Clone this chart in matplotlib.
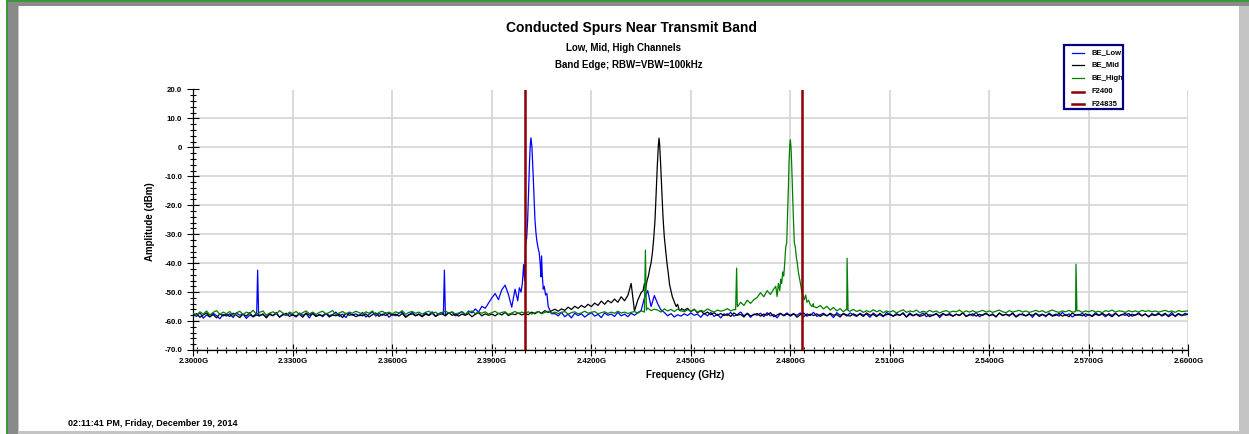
import numpy as np
import matplotlib
matplotlib.use("Agg")
import matplotlib.pyplot as plt
from matplotlib.patches import Rectangle
from matplotlib.lines import Line2D
from matplotlib.ticker import MultipleLocator, FuncFormatter

plt.rcParams['font.family'] = ['Liberation Sans', 'DejaVu Sans']
plt.rcParams['font.weight'] = 'bold'

# ---------------- data ----------------
grid_start = 2.300   # GHz
grid_step = 0.001    # GHz

low_bg = [
    -57.6, -58.4, -57.1, -59.0, -57.9, -58.6, -57.3, -58.1, -59.2, -57.7,
    -58.3, -57.5, -58.8, -57.2, -58.0, -57.6, -59.1, -57.9, -58.4, -57.4,
    -58.0, -57.8, -58.5, -57.3, -58.2, -57.0, -58.7, -57.6, -58.1, -57.4,
    -57.9, -58.6, -57.2, -58.0, -57.5, -58.9, -57.1, -58.3, -57.7, -58.5,
    -57.3, -58.1, -57.8, -56.9, -58.4, -57.6, -58.8, -57.2, -58.0, -57.5,
    -58.2, -57.0, -58.6, -57.7, -56.8, -58.3, -57.4, -58.0, -57.1, -58.7,
    -57.6, -58.2, -57.3, -56.9, -58.5, -57.8, -57.0, -58.1, -57.5, -58.4,
    -57.2, -57.9, -56.8, -58.3, -57.4, -57.0, -58.0, -57.3, -56.9, -58.2,
    -57.5, -56.8, -57.9, -56.5, -57.2, -55.8, -56.9, -54.9, -55.6, -53.8,
    -52.0, -50.5, -52.6, -49.2, -47.6, -50.8, -55.2, -49.0, -50.0, -47.0,
    -33.0, -20.0, 3.0, -25.0, -36.0, -45.0, -50.0, -55.0, -57.0, -57.4,
    -58.2, -57.0, -58.5, -57.6, -58.9, -57.3, -58.1, -57.5, -58.6, -57.8,
    -57.1, -58.3, -57.7, -58.8, -57.2, -58.0, -57.6, -58.4, -57.0, -58.2,
    -57.6, -58.5, -57.3, -58.0, -57.1, -56.4, -52.0, -49.5, -55.0, -51.2,
    -54.0, -56.2, -57.0, -58.2, -57.4, -58.6, -57.8, -58.3, -57.5, -58.1,
    -57.2, -58.0, -57.6, -58.7, -57.3, -58.2, -57.0, -58.4, -57.7, -58.9,
    -57.5, -58.1, -57.0, -58.3, -57.8, -56.9, -58.2, -57.4, -58.7, -57.6,
    -58.0, -57.3, -58.5, -57.1, -58.2, -57.7, -58.9, -57.4, -58.0, -57.2,
    -58.3, -57.6, -58.0, -57.2, -58.6, -57.5, -58.1, -57.0, -58.4, -57.8,
    -57.3, -58.2, -57.6, -58.8, -57.1, -58.0, -57.5, -58.3, -57.2, -57.9,
    -58.4, -57.3, -58.0, -57.6, -58.7, -57.2, -58.1, -57.8, -58.5, -57.0,
    -57.9, -58.3, -57.4, -58.0, -57.1, -58.6, -57.7, -58.2, -57.5, -58.0,
    -57.2, -58.5, -57.8, -58.1, -57.3, -58.8, -57.6, -58.0, -57.4, -58.3,
    -57.7, -58.0, -57.1, -58.4, -57.6, -58.2, -57.0, -58.5, -57.8, -57.3,
    -58.1, -57.5, -58.6, -57.2, -58.0, -57.7, -58.3, -57.1, -58.4, -57.6,
    -57.9, -58.2, -57.4, -58.7, -57.3, -58.0, -57.6, -58.5, -57.2, -58.1,
    -57.6, -58.3, -57.0, -58.1, -57.5, -58.6, -57.8, -58.0, -57.3, -58.4,
    -57.7, -58.2, -57.1, -58.0, -57.6, -58.5, -57.4, -58.1, -57.2, -58.3,
    -57.8, -57.3, -58.4, -57.6, -58.0, -57.1, -58.2, -57.5, -58.6, -57.4,
    -58.0, -57.2, -58.3, -57.7, -58.1, -57.0, -58.5, -57.6, -58.2, -57.3,
    -57.8,
]

mid_bg = [
    -58.1, -57.4, -58.7, -57.9, -57.2, -58.5, -57.8, -58.9, -57.5, -58.2,
    -57.7, -58.4, -57.3, -58.0, -58.8, -57.6, -58.3, -57.1, -58.6, -57.9,
    -58.2, -57.5, -58.9, -57.7, -58.1, -57.4, -58.6, -57.9, -57.3, -58.4,
    -57.8, -58.3, -57.6, -58.7, -57.2, -58.0, -57.5, -58.4, -57.9, -58.1,
    -57.4, -58.6, -57.9, -58.2, -57.6, -58.8, -57.3, -58.0, -57.7, -58.5,
    -57.9, -58.2, -57.5, -58.6, -57.8, -57.2, -58.4, -57.6, -58.1, -57.3,
    -58.0, -57.6, -58.3, -57.4, -58.7, -57.9, -57.5, -58.2, -57.7, -58.5,
    -57.6, -58.1, -57.3, -58.4, -57.8, -57.5, -58.2, -57.1, -58.0, -57.7,
    -58.3, -57.6, -58.0, -57.4, -58.5, -57.7, -57.1, -58.2, -57.5, -58.0,
    -57.6, -58.2, -57.3, -57.9, -57.0, -58.1, -57.5, -57.8, -57.2, -57.9,
    -57.4, -57.8, -56.9, -57.5, -56.7, -57.3, -56.4, -57.0, -56.5, -55.9,
    -56.6, -55.8, -56.3, -55.2, -56.0, -54.9, -55.6, -54.6, -55.3, -54.2,
    -55.0, -53.8, -54.6, -53.1, -54.2, -52.9, -53.7, -52.4, -53.5, -51.6,
    -53.0, -51.2, -47.0, -56.5, -52.8, -50.2, -49.0, -45.0, -38.0, -25.0,
    3.0, -20.0, -38.0, -46.0, -51.0, -53.0, -54.5, -55.2, -56.3, -55.6,
    -56.8, -55.9, -57.2, -56.4, -57.6, -56.9, -57.8, -57.1, -58.0, -57.4,
    -58.1, -57.5, -58.4, -57.2, -58.0, -57.7, -58.6, -57.3, -58.2, -57.8,
    -57.4, -58.3, -57.6, -58.0, -57.1, -58.5, -57.9, -57.3, -58.2, -57.6,
    -58.0, -57.4, -58.7, -57.8, -57.2, -58.3, -57.6, -58.1, -57.5, -58.4,
    -57.7, -58.2, -57.3, -58.0, -57.8, -58.6, -57.4, -57.9, -58.3, -57.5,
    -58.1, -57.6, -58.4, -57.2, -58.0, -57.7, -58.5, -57.3, -58.2, -57.8,
    -57.5, -58.3, -57.8, -58.0, -57.4, -58.6, -57.2, -58.1, -57.7, -58.4,
    -58.0, -57.3, -58.5, -57.9, -57.6, -58.2, -57.4, -58.0, -57.8, -58.3,
    -57.6, -58.1, -57.2, -58.4, -57.9, -57.5, -58.3, -57.7, -58.0, -57.4,
    -58.2, -57.8, -58.5, -57.3, -58.1, -57.6, -58.0, -57.4, -58.6, -57.9,
    -57.5, -58.2, -57.7, -58.0, -57.3, -58.4, -57.8, -58.1, -57.6, -58.3,
    -58.0, -57.4, -58.3, -57.8, -58.5, -57.2, -58.0, -57.7, -58.2, -57.5,
    -57.9, -58.4, -57.6, -58.1, -57.3, -58.0, -57.8, -58.5, -57.4, -58.2,
    -57.7, -58.0, -57.4, -58.3, -57.9, -57.5, -58.2, -57.6, -58.4, -57.8,
    -58.1, -57.6, -58.0, -57.3, -58.5, -57.7, -58.2, -57.4, -58.0, -57.9,
    -57.6,
]

high_bg = [
    -57.3, -58.0, -56.8, -57.6, -56.5, -57.9, -57.0, -56.4, -57.7, -56.9,
    -57.5, -56.7, -58.1, -57.2, -56.6, -57.8, -56.9, -57.4, -56.3, -57.6,
    -57.0, -56.5, -57.9, -57.3, -56.8, -57.6, -56.4, -57.2, -58.0, -56.9,
    -57.4, -56.7, -57.8, -57.1, -56.5, -57.5, -56.9, -57.7, -57.0, -56.6,
    -57.6, -57.0, -56.4, -57.8, -57.2, -56.7, -57.5, -56.9, -57.3, -56.6,
    -57.1, -57.7, -56.8, -57.3, -56.5, -57.9, -57.0, -56.6, -57.4, -56.9,
    -57.5, -56.8, -57.2, -56.4, -57.7, -57.0, -56.7, -57.3, -56.9, -57.6,
    -57.0, -56.6, -57.4, -56.9, -57.7, -57.1, -56.5, -57.3, -56.8, -57.5,
    -57.2, -56.7, -57.6, -57.0, -56.5, -57.4, -56.9, -57.3, -56.8, -57.6,
    -57.1, -56.6, -57.5, -57.0, -56.8, -57.7, -57.2, -56.7, -57.4, -56.9,
    -57.3, -56.8, -57.6, -57.1, -56.7, -57.5, -57.0, -56.6, -57.3, -56.9,
    -57.4, -57.0, -56.7, -57.6, -57.1, -56.8, -57.5, -57.2, -56.6, -57.3,
    -57.0, -56.7, -57.5, -57.1, -56.8, -57.4, -56.9, -57.3, -56.6, -57.2,
    -56.9, -57.4, -57.0, -56.7, -57.3, -56.5, -56.8, -55.5, -56.4, -55.9,
    -56.2, -56.9, -55.8, -56.5, -56.0, -56.7, -55.9, -56.4, -56.8, -56.1,
    -56.6, -56.0, -56.9, -56.3, -56.7, -55.8, -56.4, -56.9, -56.2, -56.6,
    -56.3, -55.7, -56.5, -56.0, -54.8, -53.5, -54.6, -52.8, -53.9, -52.6,
    -51.8, -50.2, -51.6, -49.5, -50.8, -48.9, -47.0, -45.0, -40.0, -20.0,
    2.6, -13.0, -34.0, -43.0, -49.0, -52.0, -54.0, -55.0, -55.4, -54.6,
    -55.8, -54.9, -56.2, -55.3, -56.5, -55.7, -56.8, -56.1, -56.6, -56.0,
    -56.7, -56.2, -57.0, -56.4, -56.9, -56.1, -56.8, -56.3, -57.1, -56.5,
    -56.9, -56.4, -57.2, -56.6, -56.1, -57.0, -56.5, -56.8, -56.2, -57.1,
    -56.6, -57.0, -56.3, -56.9, -56.5, -57.2, -56.7, -56.4, -57.0, -56.6,
    -56.8, -56.2, -57.1, -56.5, -56.9, -56.4, -57.0, -56.7, -56.3, -56.9,
    -56.5, -57.0, -56.6, -56.2, -56.8, -57.1, -56.4, -56.9, -56.6, -56.3,
    -56.9, -56.5, -57.0, -56.7, -56.3, -56.8, -56.4, -57.1, -56.6, -56.2,
    -56.7, -57.0, -56.5, -56.8, -56.3, -56.9, -56.6, -56.4, -57.0, -56.5,
    -56.8, -56.3, -56.9, -56.6, -57.1, -56.4, -56.7, -56.2, -56.9, -56.5,
    -56.6, -57.0, -56.4, -56.8, -56.5, -56.9, -56.3, -56.7, -56.4, -56.8,
    -56.5, -56.9, -56.6, -56.3, -56.8, -56.5, -57.0, -56.4, -56.7, -56.6,
    -56.5,
]

# finely sampled carrier regions (GHz, dBm)
low_peak_f = [2.3978, 2.3983, 2.3988, 2.3992, 2.3996, 2.3999, 2.4002, 2.4005,
              2.4008, 2.4011, 2.4014, 2.4016, 2.4018, 2.4021, 2.4024, 2.4027,
              2.4030, 2.4033, 2.4036, 2.4039, 2.4043, 2.4046, 2.4048, 2.4050,
              2.4052, 2.4055, 2.4058, 2.4062, 2.4066, 2.4070, 2.4075, 2.4080]
low_peak_a = [-53.0, -48.5, -50.0, -47.0, -40.5, -46.0, -33.0, -31.5,
              -25.0, -14.0, -4.0, 1.0, 3.3, 0.0, -8.0, -17.0,
              -25.0, -29.5, -32.5, -34.5, -36.5, -40.5, -44.7, -37.5,
              -44.0, -49.0, -48.0, -51.0, -50.5, -55.0, -56.2, -57.5]

mid_peak_f = [2.4356, 2.4360, 2.4364, 2.4368, 2.4372, 2.4376, 2.4380, 2.4384,
              2.4388, 2.4392, 2.4396, 2.4399, 2.4402, 2.4404, 2.4406, 2.4409,
              2.4412, 2.4416, 2.4420, 2.4424, 2.4428, 2.4432, 2.4436, 2.4440,
              2.4444, 2.4448, 2.4452, 2.4456, 2.4460, 2.4464, 2.4468, 2.4472]
mid_peak_a = [-49.5, -47.0, -48.5, -46.0, -44.5, -42.0, -40.0, -36.5,
              -31.5, -25.0, -14.0, -6.0, 0.5, 3.2, 0.8, -6.0,
              -14.0, -24.0, -31.0, -35.5, -40.0, -43.5, -47.5, -49.5,
              -51.5, -52.8, -54.0, -55.0, -54.2, -55.8, -56.5, -55.7]

high_peak_f = [2.4756, 2.4760, 2.4764, 2.4768, 2.4771, 2.4774, 2.4777, 2.4780,
               2.4783, 2.4786, 2.4789, 2.4792, 2.4794, 2.4796, 2.4798, 2.4800,
               2.4802, 2.4804, 2.4806, 2.4809, 2.4812, 2.4815, 2.4818, 2.4821,
               2.4824, 2.4827, 2.4830, 2.4834, 2.4838, 2.4842, 2.4846, 2.4850,
               2.4855, 2.4860, 2.4865, 2.4869]
high_peak_a = [-48.0, -51.5, -47.0, -49.5, -45.5, -47.0, -43.0, -44.5,
               -40.0, -34.5, -33.0, -22.0, -14.0, -5.0, 0.5, 2.6,
               0.0, -6.0, -13.7, -24.0, -33.0, -34.5, -38.0, -40.0,
               -43.0, -45.0, -46.7, -49.5, -51.5, -52.6, -51.0, -53.5,
               -52.8, -54.3, -55.0, -54.0]

# narrow spurs (GHz, dBm)
low_spur_f = [2.3191, 2.3194, 2.3197, 2.3754, 2.3757, 2.3760]
low_spur_a = [-57.9, -42.4, -58.2, -57.6, -42.4, -57.8]
high_spur_f = [2.4360, 2.4363, 2.4366, 2.4635, 2.4638, 2.4641,
               2.4968, 2.4971, 2.4974, 2.5658, 2.5661, 2.5664]
high_spur_a = [-56.9, -35.5, -56.2, -56.1, -41.7, -55.0,
               -56.0, -38.3, -56.4, -56.8, -40.4, -56.5]

marker_freqs = [2.400, 2.4835]
marker_names = ["F2400", "F24835"]
trace_names = ["BE_Low", "BE_Mid", "BE_High"]
trace_colors = ["#0000ff", "#000000", "#008000"]

x_ticks = [2.30, 2.33, 2.36, 2.39, 2.42, 2.45, 2.48, 2.51, 2.54, 2.57, 2.60]
y_ticks = [20, 10, 0, -10, -20, -30, -40, -50, -60, -70]


def build(bg, pk_f, pk_a, sp_f, sp_a):
    bg = np.asarray(bg, float)
    f = grid_start + grid_step * np.arange(len(bg))
    keep = (f < min(pk_f) - 1e-7) | (f > max(pk_f) + 1e-7)
    ff = np.concatenate([f[keep], pk_f, sp_f])
    aa = np.concatenate([bg[keep], pk_a, sp_a])
    o = np.argsort(ff, kind="stable")
    return ff[o], aa[o]


traces = [
    build(low_bg, low_peak_f, low_peak_a, low_spur_f, low_spur_a),
    build(mid_bg, mid_peak_f, mid_peak_a, [], []),
    build(high_bg, high_peak_f, high_peak_a, high_spur_f, high_spur_a),
]

# ---------------- figure ----------------
W, H = 1249, 434
fig = plt.figure(figsize=(W / 100, H / 100), dpi=100)
fig.patch.set_facecolor("white")


def px_rect(x, y, w, h, color):
    fig.add_artist(Rectangle((x / W, 1 - (y + h) / H), w / W, h / H,
                             transform=fig.transFigure, color=color, lw=0, zorder=0))


# window frame
px_rect(6, 0, W - 6, 2, "#3c963c")
px_rect(8, 2, W - 8, 4, "#8a8a8a")
px_rect(6, 0, 2, H, "#3c963c")
px_rect(8, 2, 10, H - 2, "#8a8a8a")
px_rect(18, 6, 1, H - 6, "#c8c8c8")
px_rect(1239, 6, 10, H - 6, "#c4c4c4")
px_rect(18, 431, W - 18, 3, "#c4c4c4")

ax_l, ax_r, ax_t, ax_b = 193.3, 1188.4, 89.5, 350.0
ax = fig.add_axes([ax_l / W, 1 - ax_b / H, (ax_r - ax_l) / W, (ax_b - ax_t) / H])

for (ff, aa), c in zip(traces, trace_colors):
    ax.plot(ff, aa, color=c, lw=0.9, zorder=3)
for mf in marker_freqs:
    ax.axvline(mf, color="#8b0000", lw=1.8, zorder=4)

ax.set_xlim(2.30, 2.60)
ax.set_ylim(-70, 20)
ax.set_xticks(x_ticks)
ax.set_yticks(y_ticks)
ax.xaxis.set_minor_locator(MultipleLocator(0.003))
ax.yaxis.set_minor_locator(MultipleLocator(2))
ax.xaxis.set_major_formatter(FuncFormatter(lambda v, p: f"{v:.4f}G"))
ax.yaxis.set_major_formatter(FuncFormatter(lambda v, p: "0" if abs(v) < 1e-9 else f"{v:.1f}"))
ax.tick_params(which="major", direction="inout", length=8, width=0.8,
               labelsize=5.7)
ax.tick_params(axis="y", which="major", pad=4)
ax.tick_params(axis="x", which="major", pad=1.5)
ax.tick_params(which="minor", direction="inout", length=5, width=0.8)
for lab in ax.get_xticklabels() + ax.get_yticklabels():
    lab.set_fontweight("bold")
ax.grid(True, which="major", color="#d4d4d4", lw=1.2, zorder=0)
ax.set_axisbelow(True)
for s in ("top", "right"):
    ax.spines[s].set_visible(False)
for s in ("left", "bottom"):
    ax.spines[s].set_linewidth(0.9)

# titles / labels
fig.text(631 / W, 1 - 28 / H, "Conducted Spurs Near Transmit Band",
         ha="center", va="center", fontsize=10, fontweight="bold")
fig.text(623 / W, 1 - 48 / H, "Low, Mid, High Channels",
         ha="center", va="center", fontsize=7, fontweight="bold")
fig.text(629 / W, 1 - 65 / H, "Band Edge; RBW=VBW=100kHz",
         ha="center", va="center", fontsize=7, fontweight="bold")
fig.text(150 / W, 1 - 222 / H, "Amplitude (dBm)", rotation=90,
         ha="center", va="center", fontsize=7, fontweight="bold")
fig.text(685 / W, 1 - 375 / H, "Frequency (GHz)",
         ha="center", va="center", fontsize=7, fontweight="bold")
fig.text(68 / W, 1 - 423 / H, "02:11:41 PM, Friday, December 19, 2014",
         ha="left", va="center", fontsize=6.5, fontweight="bold")

# legend (drawn manually to match the boxed layout)
fig.add_artist(Rectangle((1064 / W, 1 - 109.3 / H), 58.7 / W, 64.6 / H,
                         transform=fig.transFigure, facecolor="white",
                         edgecolor="#000080", lw=1.6, zorder=5))
leg_names = trace_names + marker_names
leg_colors = trace_colors + ["#8b0000", "#8b0000"]
leg_lw = [0.9, 0.9, 0.9, 1.8, 1.8]
leg_y = [52.7, 65.0, 78.3, 91.7, 104.3]
for n, c, lw, y in zip(leg_names, leg_colors, leg_lw, leg_y):
    fig.add_artist(Line2D([1071.5 / W, 1083.5 / W], [1 - y / H, 1 - y / H],
                          transform=fig.transFigure, color=c, lw=lw, zorder=6))
    fig.text(1091 / W, 1 - y / H, n, ha="left", va="center", fontsize=5.5,
             fontweight="bold", zorder=6)

fig.savefig("out.png", dpi=100, facecolor="white")
